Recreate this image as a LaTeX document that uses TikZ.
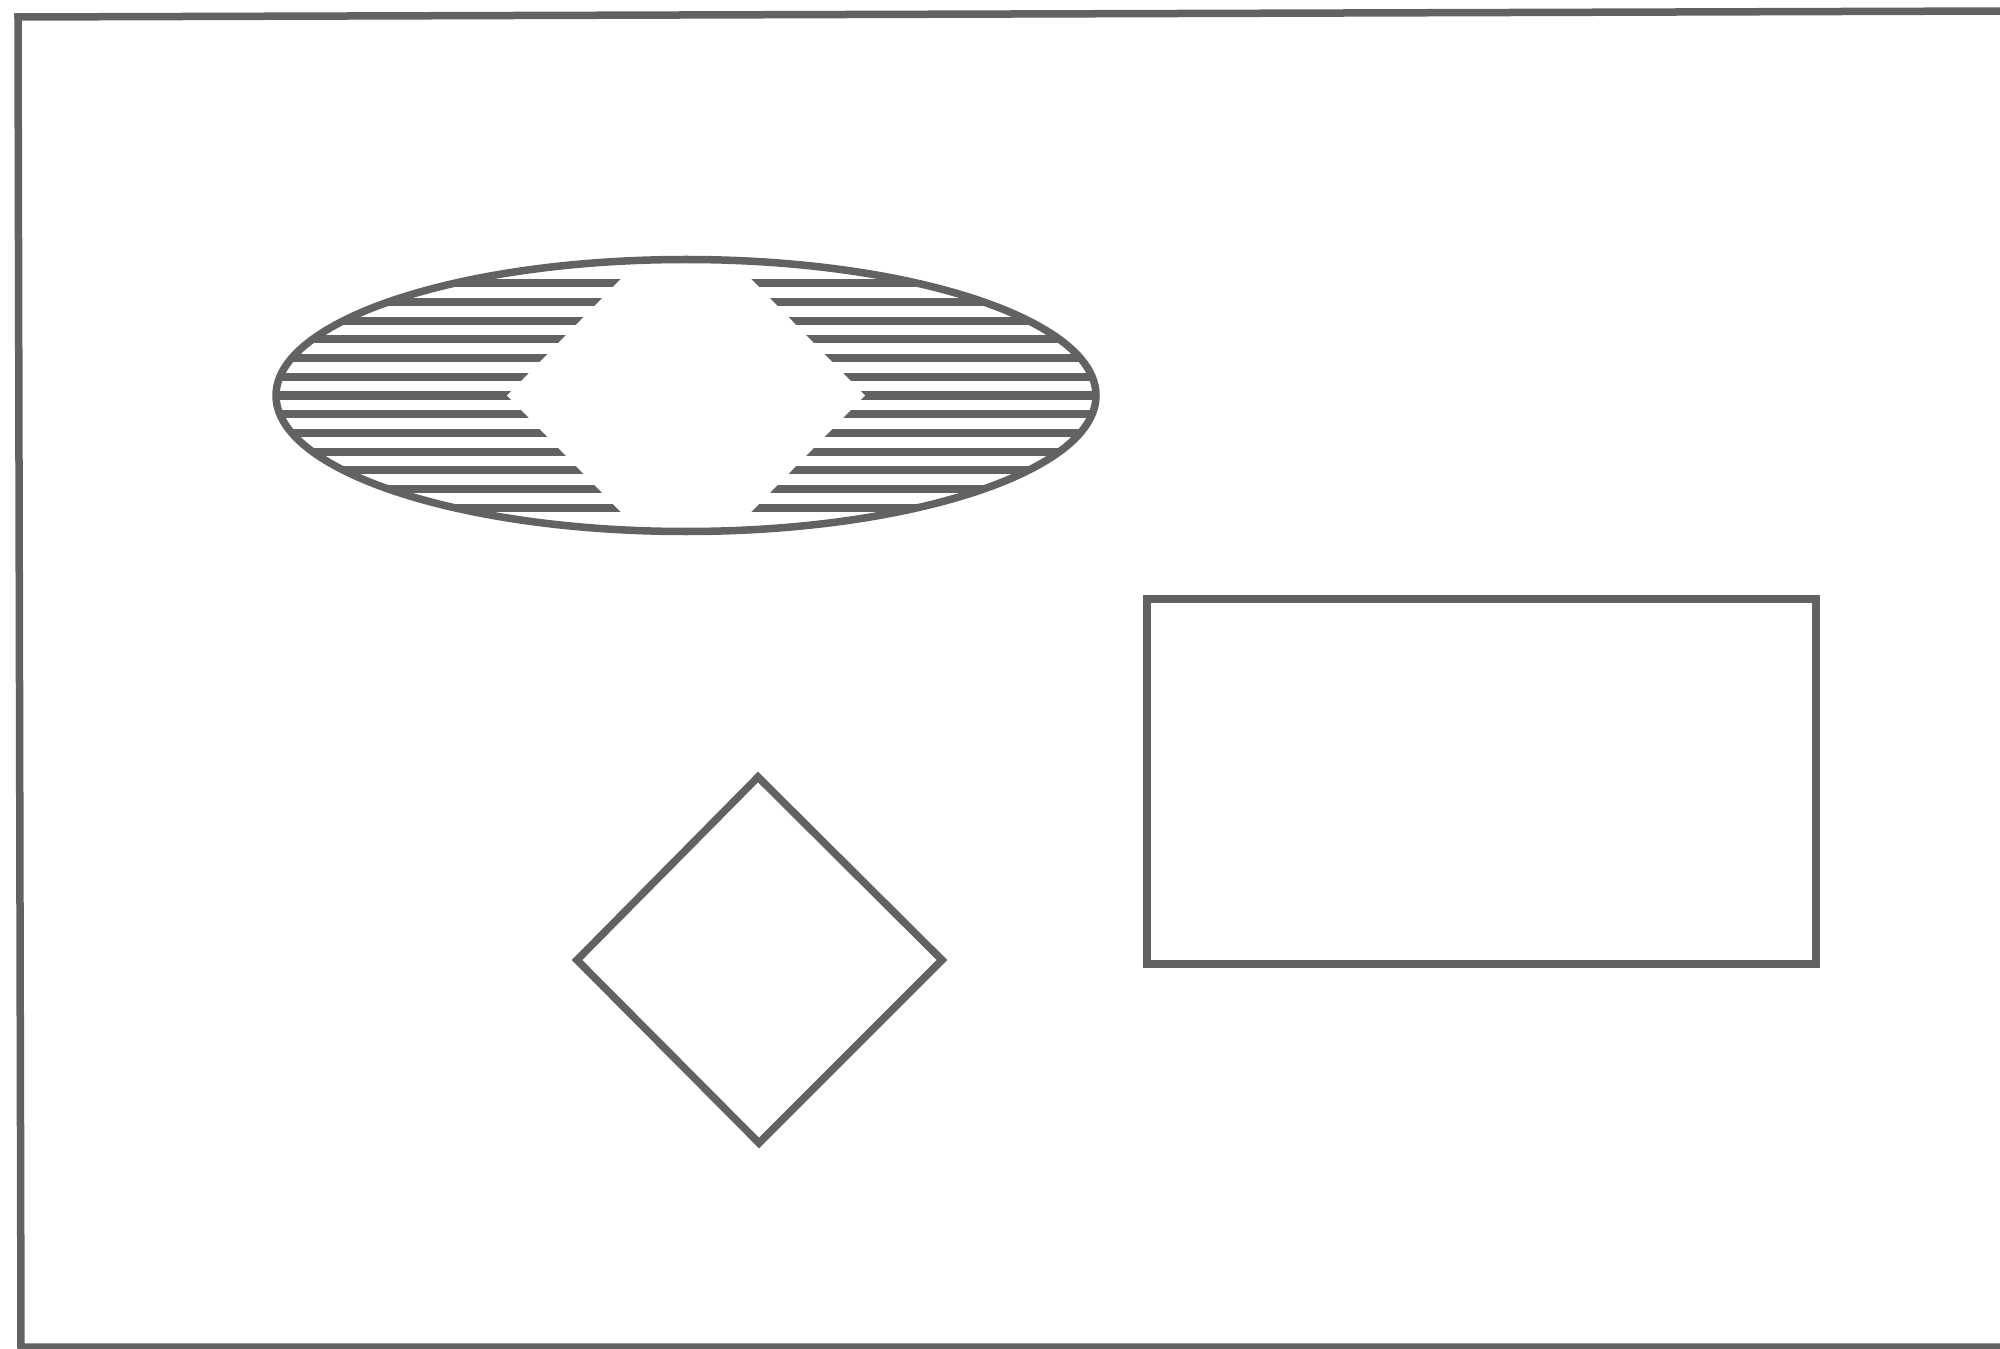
\documentclass[tikz,border=0pt]{standalone}
\definecolor{ink}{RGB}{98,98,98}
\begin{document}
\begin{tikzpicture}[x=0.01cm,y=-0.01cm,
  outline/.style={draw=ink,line width=0.075cm,line join=miter},
  hatch/.style={draw=ink,line width=0.08cm}]
\useasboundingbox (0,0) rectangle (2000,1349);
% frame (open on the right, as scanned)
\coordinate (ftr) at (2010,11);
\coordinate (ftl) at (18,17);
\coordinate (fbl) at (21,1347);
\coordinate (fbr) at (2010,1347);
\begin{scope}
  \clip (0,0) rectangle (2000,1349);
  \draw[outline] (ftr) -- (ftl) -- (fbl) -- (fbr);
\end{scope}
% hatched ellipse
\coordinate (ec) at (686,395.5);
\begin{scope}
  \clip (ec) ellipse [x radius=410, y radius=136];
  \foreach \k in {-6,...,6}{
    \draw[hatch] (250,{395.5+\k*18.7}) -- (1120,{395.5+\k*18.7});
  }
  \fill[white] (686-179,395.5) -- (686-32.5,395.5-150) -- (686+32.5,395.5-150)
     -- (686+179,395.5) -- (686+32.5,395.5+150) -- (686-32.5,395.5+150) -- cycle;
\end{scope}
\draw[outline] (ec) ellipse [x radius=410, y radius=136];
% rectangle
\coordinate (r1) at (1147,599);
\coordinate (r2) at (1816,964);
\draw[outline] (r1) rectangle (r2);
% diamond
\coordinate (dt) at (758,777);
\coordinate (dr) at (942,960);
\coordinate (db) at (759,1143);
\coordinate (dl) at (577,960);
\draw[outline] (dt) -- (dr) -- (db) -- (dl) -- cycle;
\end{tikzpicture}
\end{document}
